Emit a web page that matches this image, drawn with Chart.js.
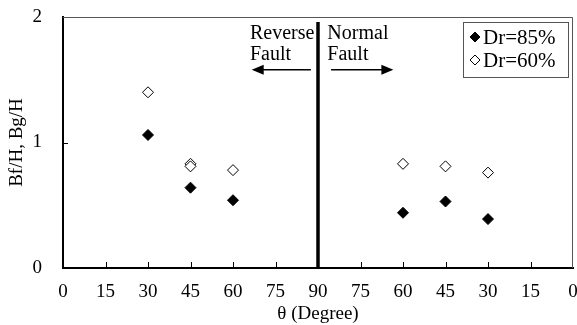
<!DOCTYPE html>
<html>
<head>
<meta charset="utf-8">
<script src="https://cdn.jsdelivr.net/npm/chart.js@4/dist/chart.umd.min.js"></script>
<style>
    html, body { margin: 0; padding: 0; background: #fff; }
    #wrap { width: 577px; height: 325px; }
</style>
</head>
<body>
<div id="wrap"><canvas id="chart" width="577" height="325"></canvas></div>
<script>
// reverse fault side (theta read left to right 0..90)
var reverseAngles85 = [30, 45, 60];
var reverse85 = [1.06, 0.64, 0.54];
var reverseAngles60 = [30, 45, 45, 60];
var reverse60 = [1.40, 0.83, 0.81, 0.78];

// normal fault side (theta read right to left 90..0)
var normalAngles = [60, 45, 30];
var normal85 = [0.44, 0.53, 0.39];
var normal60 = [0.83, 0.81, 0.76];

var xTicks = [0, 15, 30, 45, 60, 75, 90, 105, 120, 135, 150, 165, 180];
var yTicks = [0, 1, 2];
var dividerY = [0, 1.96];

var FONT = "'Liberation Serif', 'Times New Roman', serif";

function toPoints(angles, values, normal) {
    return angles.map(function (a, i) {
        return { x: normal ? 180 - a : a, y: values[i] };
    });
}

function tickLabel(v) {
    return v <= 90 ? String(v) : String(180 - v);
}

var pts85 = toPoints(reverseAngles85, reverse85, false).concat(toPoints(normalAngles, normal85, true));
var pts60 = toPoints(reverseAngles60, reverse60, false).concat(toPoints(normalAngles, normal60, true));

function arrow(ctx, x1, x2, y) {
    var dir = x2 > x1 ? 1 : -1;
    ctx.beginPath();
    ctx.moveTo(x1, y);
    ctx.lineTo(x2 - dir * 10, y);
    ctx.lineWidth = 1.5;
    ctx.stroke();
    ctx.beginPath();
    ctx.moveTo(x2, y);
    ctx.lineTo(x2 - dir * 12, y - 5);
    ctx.lineTo(x2 - dir * 12, y + 5);
    ctx.closePath();
    ctx.fill();
}

var extras = {
    id: 'extras',
    afterDraw: function (chart) {
        var ctx = chart.ctx;
        var a = chart.chartArea;
        var xs = chart.scales.x, ys = chart.scales.y;
        ctx.save();

        // frame top/right
        ctx.strokeStyle = '#555';
        ctx.lineWidth = 1;
        ctx.beginPath();
        ctx.moveTo(a.left, a.top + 0.5);
        ctx.lineTo(a.right - 0.5, a.top + 0.5);
        ctx.lineTo(a.right - 0.5, a.bottom);
        ctx.stroke();

        // inward ticks
        ctx.strokeStyle = '#000';
        ctx.lineWidth = 1;
        ctx.beginPath();
        xTicks.forEach(function (v) {
            if (v === 0 || v === 180) return;
            var px = Math.round(xs.getPixelForValue(v)) + 0.5;
            ctx.moveTo(px, a.bottom);
            ctx.lineTo(px, a.bottom - 6);
        });
        yTicks.forEach(function (v) {
            if (v === 0 || v === 2) return;
            var py = Math.round(ys.getPixelForValue(v)) + 0.5;
            ctx.moveTo(a.left, py);
            ctx.lineTo(a.left + 5, py);
        });
        ctx.stroke();

        // fault annotations
        ctx.fillStyle = '#000';
        ctx.strokeStyle = '#000';
        ctx.font = '20px ' + FONT;
        ctx.textBaseline = 'middle';
        ctx.textAlign = 'left';
        ctx.fillText('Reverse', xs.getPixelForValue(66), ys.getPixelForValue(1.87));
        ctx.fillText('Fault', xs.getPixelForValue(66), ys.getPixelForValue(1.70));
        ctx.fillText('Normal', xs.getPixelForValue(93.3), ys.getPixelForValue(1.87));
        ctx.fillText('Fault', xs.getPixelForValue(93.3), ys.getPixelForValue(1.70));
        var ay = ys.getPixelForValue(1.58);
        arrow(ctx, xs.getPixelForValue(87.5), xs.getPixelForValue(66.6), ay);
        arrow(ctx, xs.getPixelForValue(94.6), xs.getPixelForValue(116.6), ay);

        // legend
        var lx = 463, ly = 22, lw = 105, lh = 55;
        ctx.fillStyle = '#fff';
        ctx.fillRect(lx, ly, lw, lh);
        ctx.strokeStyle = '#555';
        ctx.lineWidth = 1;
        ctx.strokeRect(lx + 0.5, ly + 0.5, lw, lh);
        chart.data.datasets.forEach(function (ds) {
            if (!ds.label) return;
            var y = ly + 15 + ds.legendRow * 23;
            ctx.fillStyle = ds.backgroundColor;
            ctx.strokeStyle = '#000';
            ctx.beginPath();
            ctx.moveTo(lx + 12, y - 5);
            ctx.lineTo(lx + 17, y);
            ctx.lineTo(lx + 12, y + 5);
            ctx.lineTo(lx + 7, y);
            ctx.closePath();
            ctx.fill();
            ctx.stroke();
            ctx.fillStyle = '#000';
            ctx.font = '21px ' + FONT;
            ctx.textAlign = 'left';
            ctx.fillText(ds.label, lx + 20, y + 1);
        });
        ctx.restore();
    }
};

new Chart(document.getElementById('chart'), {
    type: 'scatter',
    data: {
        datasets: [
            {
                type: 'line',
                data: [{ x: 90, y: dividerY[0] }, { x: 90, y: dividerY[1] }],
                borderColor: '#000',
                borderWidth: 3.5,
                pointRadius: 0,
                fill: false
            },
            {
                label: 'Dr=85%',
                legendRow: 0,
                data: pts85,
                pointStyle: 'rectRot',
                pointRadius: 5.5,
                backgroundColor: '#000',
                borderColor: '#000',
                borderWidth: 1
            },
            {
                label: 'Dr=60%',
                legendRow: 1,
                data: pts60,
                pointStyle: 'rectRot',
                pointRadius: 5.5,
                backgroundColor: '#fff',
                borderColor: '#000',
                borderWidth: 1
            }
        ]
    },
    options: {
        responsive: false,
        animation: false,
        devicePixelRatio: 1,
        layout: { autoPadding: false, padding: { top: 17, right: 4, bottom: 0, left: 0 } },
        plugins: {
            legend: { display: false },
            tooltip: { enabled: false }
        },
        scales: {
            x: {
                type: 'linear',
                min: 0,
                max: 180,
                afterBuildTicks: function (scale) {
                    scale.ticks = xTicks.map(function (v) { return { value: v }; });
                },
                afterFit: function (scale) {
                    scale.height = 57;
                    scale.paddingLeft = 0;
                    scale.paddingRight = 0;
                },
                grid: { display: false, drawTicks: false },
                border: { color: '#000', width: 2 },
                ticks: {
                    color: '#000',
                    font: { family: FONT, size: 19 },
                    padding: 13,
                    maxRotation: 0,
                    autoSkip: false,
                    callback: function (v) { return tickLabel(v); }
                },
                title: {
                    display: true,
                    text: 'θ (Degree)',
                    color: '#000',
                    font: { family: FONT, size: 19 },
                    padding: { top: 0, bottom: 0 }
                }
            },
            y: {
                min: 0,
                max: 2,
                afterBuildTicks: function (scale) {
                    scale.ticks = yTicks.map(function (v) { return { value: v }; });
                },
                afterFit: function (scale) {
                    scale.width = 63;
                    scale.paddingTop = 0;
                    scale.paddingBottom = 0;
                },
                grid: { display: false, drawTicks: false },
                border: { color: '#000', width: 2 },
                ticks: {
                    color: '#000',
                    font: { family: FONT, size: 19 },
                    padding: 21
                },
                title: {
                    display: true,
                    text: 'Bf/H, Bg/H',
                    color: '#000',
                    font: { family: FONT, size: 19 },
                    padding: { top: 6, bottom: 0 }
                }
            }
        }
    },
    plugins: [extras]
});
</script>
</body>
</html>
